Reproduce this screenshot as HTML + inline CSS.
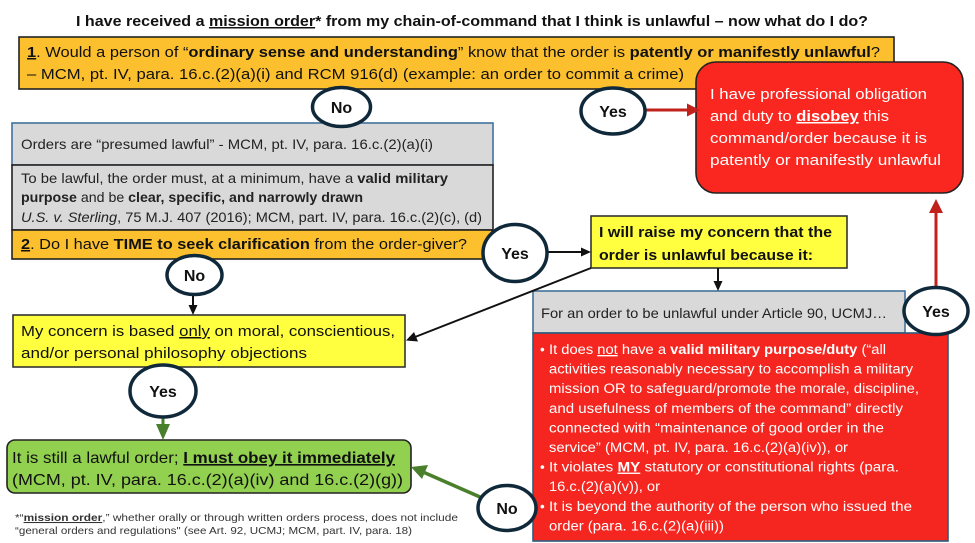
<!DOCTYPE html>
<html>
<head>
<meta charset="utf-8">
<style>
html,body{margin:0;padding:0;background:#fff;}
svg{display:block;}
text{font-family:"Liberation Sans",Arial,sans-serif;}
.b{font-weight:bold;}
.u{text-decoration:underline;}
.i{font-style:italic;}
.yn{font-weight:bold;font-size:16px;fill:#111;}
</style>
</head>
<body>
<svg width="975" height="543" viewBox="0 0 975 543" xmlns="http://www.w3.org/2000/svg">
<defs>
<marker id="ab" viewBox="0 0 10 10" refX="10" refY="5" markerWidth="5" markerHeight="5" orient="auto" markerUnits="userSpaceOnUse"></marker>
</defs>

<!-- Title -->
<text x="76" y="26" font-size="15" class="b" fill="#111" textLength="792" lengthAdjust="spacingAndGlyphs">I have received a <tspan class="u">mission order</tspan>* from my chain-of-command that I think is unlawful – now what do I do?</text>

<!-- Box 1 -->
<rect x="19" y="37" width="875" height="52" fill="#FCC02E" stroke="#222" stroke-width="1.6"/>
<text x="27" y="57" font-size="15" fill="#111" textLength="853" lengthAdjust="spacingAndGlyphs"><tspan class="b u">1</tspan>. Would a person of “<tspan class="b">ordinary sense and understanding</tspan>” know that the order is <tspan class="b">patently or manifestly unlawful</tspan>?</text>
<text x="27" y="79" font-size="15" fill="#111" textLength="657" lengthAdjust="spacingAndGlyphs">– MCM, pt. IV, para. 16.c.(2)(a)(i) and RCM 916(d) (example: an order to commit a crime)</text>

<!-- Gray boxes left -->
<rect x="12" y="123" width="481" height="42" fill="#D9D9D9" stroke="#41719C" stroke-width="1.6"/>
<rect x="12" y="165" width="481" height="65" fill="#D9D9D9" stroke="#222" stroke-width="1.6"/>
<rect x="12" y="230" width="480" height="29" fill="#FCC02E" stroke="#222" stroke-width="1.6"/>
<text x="21" y="149" font-size="14" fill="#222" textLength="412" lengthAdjust="spacingAndGlyphs">Orders are “presumed lawful” - MCM, pt. IV, para. 16.c.(2)(a)(i)</text>
<text x="21" y="183" font-size="14" fill="#222" textLength="427" lengthAdjust="spacingAndGlyphs">To be lawful, the order must, at a minimum, have a <tspan class="b">valid military</tspan></text>
<text x="21" y="202" font-size="14" fill="#222" textLength="342" lengthAdjust="spacingAndGlyphs"><tspan class="b">purpose</tspan> and be <tspan class="b">clear, specific, and narrowly drawn</tspan></text>
<text x="21" y="222" font-size="14" fill="#222" textLength="461" lengthAdjust="spacingAndGlyphs"><tspan class="i">U.S. v. Sterling</tspan>, 75 M.J. 407 (2016); MCM, part. IV, para. 16.c.(2)(c), (d)</text>
<text x="21" y="249" font-size="15" fill="#111" textLength="446" lengthAdjust="spacingAndGlyphs"><tspan class="b u">2</tspan>. Do I have <tspan class="b">TIME to seek clarification</tspan> from the order-giver?</text>

<!-- Red top-right box -->
<rect x="696" y="62" width="267" height="131" rx="20" ry="20" fill="#F9271F" stroke="#222" stroke-width="1.6"/>
<text x="710" y="99" font-size="15" fill="#fff" textLength="217" lengthAdjust="spacingAndGlyphs">I have professional obligation</text>
<text x="710" y="121" font-size="15" fill="#fff" textLength="179" lengthAdjust="spacingAndGlyphs">and duty to <tspan class="b u">disobey</tspan> this</text>
<text x="710" y="143" font-size="15" fill="#fff" textLength="217" lengthAdjust="spacingAndGlyphs">command/order because it is</text>
<text x="710" y="165" font-size="15" fill="#fff" textLength="231" lengthAdjust="spacingAndGlyphs">patently or manifestly unlawful</text>

<!-- Yellow box raise concern -->
<rect x="591" y="216" width="256" height="52" fill="#FFFF40" stroke="#333" stroke-width="1.6"/>
<text x="599" y="237" font-size="15" class="b" fill="#111" textLength="233" lengthAdjust="spacingAndGlyphs">I will raise my concern that the</text>
<text x="599" y="260" font-size="15" class="b" fill="#111" textLength="214" lengthAdjust="spacingAndGlyphs">order is unlawful because it:</text>

<!-- Gray "For an order" -->
<rect x="533" y="291" width="372" height="42" fill="#D9D9D9" stroke="#41719C" stroke-width="1.6"/>
<text x="541" y="318" font-size="14" fill="#222" textLength="346" lengthAdjust="spacingAndGlyphs">For an order to be unlawful under Article 90, UCMJ…</text>

<!-- Red bottom box -->
<rect x="533" y="333" width="415" height="208" fill="#F5261F" stroke="#2F5C7E" stroke-width="1.6"/>
<g font-size="13.5" fill="#fff">
<text x="540" y="354">•</text>
<text x="549" y="354" textLength="337" lengthAdjust="spacingAndGlyphs">It does <tspan class="u">not</tspan> have a <tspan class="b">valid military purpose/duty</tspan> (“all</text>
<text x="549" y="373.6" textLength="364" lengthAdjust="spacingAndGlyphs">activities reasonably necessary to accomplish a military</text>
<text x="549" y="393.2" textLength="370" lengthAdjust="spacingAndGlyphs">mission OR to safeguard/promote the morale, discipline,</text>
<text x="549" y="412.8" textLength="354" lengthAdjust="spacingAndGlyphs">and usefulness of members of the command” directly</text>
<text x="549" y="432.4" textLength="335" lengthAdjust="spacingAndGlyphs">connected with “maintenance of good order in the</text>
<text x="549" y="452" textLength="299" lengthAdjust="spacingAndGlyphs">service” (MCM, pt. IV, para. 16.c.(2)(a)(iv)), or</text>
<text x="540" y="471.6">•</text>
<text x="549" y="471.6" textLength="350" lengthAdjust="spacingAndGlyphs">It violates <tspan class="b u">MY</tspan> statutory or constitutional rights (para.</text>
<text x="549" y="491.2" textLength="111" lengthAdjust="spacingAndGlyphs">16.c.(2)(a)(v)), or</text>
<text x="540" y="510.8">•</text>
<text x="549" y="510.8" textLength="363" lengthAdjust="spacingAndGlyphs">It is beyond the authority of the person who issued the</text>
<text x="549" y="530.4" textLength="175" lengthAdjust="spacingAndGlyphs">order (para. 16.c.(2)(a)(iii))</text>
</g>

<!-- Yellow box 3 -->
<rect x="13" y="315" width="392" height="52" fill="#FFFF40" stroke="#333" stroke-width="1.6"/>
<text x="21" y="336" font-size="15" fill="#111" textLength="374" lengthAdjust="spacingAndGlyphs">My concern is based <tspan class="u">only</tspan> on moral, conscientious,</text>
<text x="21" y="358" font-size="15" fill="#111" textLength="286" lengthAdjust="spacingAndGlyphs">and/or personal philosophy objections</text>

<!-- Green box -->
<rect x="7" y="440" width="404" height="53" rx="8" ry="8" fill="#92D050" stroke="#222" stroke-width="1.6"/>
<text x="12" y="463" font-size="16" fill="#111" textLength="383" lengthAdjust="spacingAndGlyphs">It is still a lawful order; <tspan class="b u">I must obey it immediately</tspan></text>
<text x="12" y="485" font-size="16" fill="#111" textLength="391" lengthAdjust="spacingAndGlyphs">(MCM, pt. IV, para. 16.c.(2)(a)(iv) and 16.c.(2)(g))</text>

<!-- Footnote -->
<text x="15" y="521" font-size="10.5" fill="#333" textLength="443" lengthAdjust="spacingAndGlyphs">*“<tspan class="b u">mission order</tspan>,” whether orally or through written orders process, does not include</text>
<text x="15" y="534" font-size="10.5" fill="#333" textLength="397" lengthAdjust="spacingAndGlyphs">“general orders and regulations" (see Art. 92, UCMJ; MCM, part. IV, para. 18)</text>

<!-- Connectors -->
<!-- red arrow top -->
<line x1="646" y1="110" x2="688" y2="110" stroke="#C0211B" stroke-width="3"/>
<polygon points="700,110 687,103.5 687,116.5" fill="#C0211B"/>
<!-- red up arrow -->
<line x1="936" y1="287" x2="936" y2="210" stroke="#C0211B" stroke-width="3"/>
<polygon points="936,199 929,213 943,213" fill="#C0211B"/>
<!-- black arrow yes -> raise -->
<line x1="547" y1="252" x2="582" y2="252" stroke="#111" stroke-width="2"/>
<polygon points="591,252 581,247.5 581,256.5" fill="#111"/>
<!-- down arrow raise -> gray -->
<line x1="718" y1="268" x2="718" y2="282" stroke="#111" stroke-width="2"/>
<polygon points="718,291 713.5,281 722.5,281" fill="#111"/>
<!-- diagonal -->
<line x1="591" y1="268" x2="415" y2="337" stroke="#111" stroke-width="2"/>
<polygon points="406,340.5 414,332 418,341.5" fill="#111"/>
<!-- No2 down arrow -->
<line x1="193" y1="294" x2="193" y2="306" stroke="#111" stroke-width="2"/>
<polygon points="193,315 188.5,305 197.5,305" fill="#111"/>
<!-- green down arrow -->
<line x1="163" y1="417" x2="163" y2="426" stroke="#4A7F2C" stroke-width="3"/>
<polygon points="163,440 156,424 170,424" fill="#4A7F2C"/>
<!-- green diagonal -->
<line x1="480" y1="497" x2="423" y2="472" stroke="#4A7F2C" stroke-width="3.5"/>
<polygon points="411,467 428,465 422,479" fill="#4A7F2C"/>

<!-- Ellipses -->
<g fill="#fff" stroke="#10293A" stroke-width="3.5">
<ellipse cx="341.5" cy="107" rx="29" ry="19.5"/>
<ellipse cx="613" cy="111" rx="32" ry="23"/>
<ellipse cx="194.5" cy="275" rx="27.5" ry="19.5"/>
<ellipse cx="515" cy="253" rx="32" ry="28.5"/>
<ellipse cx="936" cy="311" rx="32" ry="23.5"/>
<ellipse cx="163" cy="391" rx="33" ry="26"/>
<ellipse cx="507" cy="508" rx="29" ry="22.5"/>
</g>
<text x="341.5" y="113" class="yn" text-anchor="middle">No</text>
<text x="613" y="117" class="yn" text-anchor="middle">Yes</text>
<text x="194.5" y="281" class="yn" text-anchor="middle">No</text>
<text x="515" y="259" class="yn" text-anchor="middle">Yes</text>
<text x="936" y="317" class="yn" text-anchor="middle">Yes</text>
<text x="163" y="397" class="yn" text-anchor="middle">Yes</text>
<text x="507" y="514" class="yn" text-anchor="middle">No</text>
</svg>
</body>
</html>
